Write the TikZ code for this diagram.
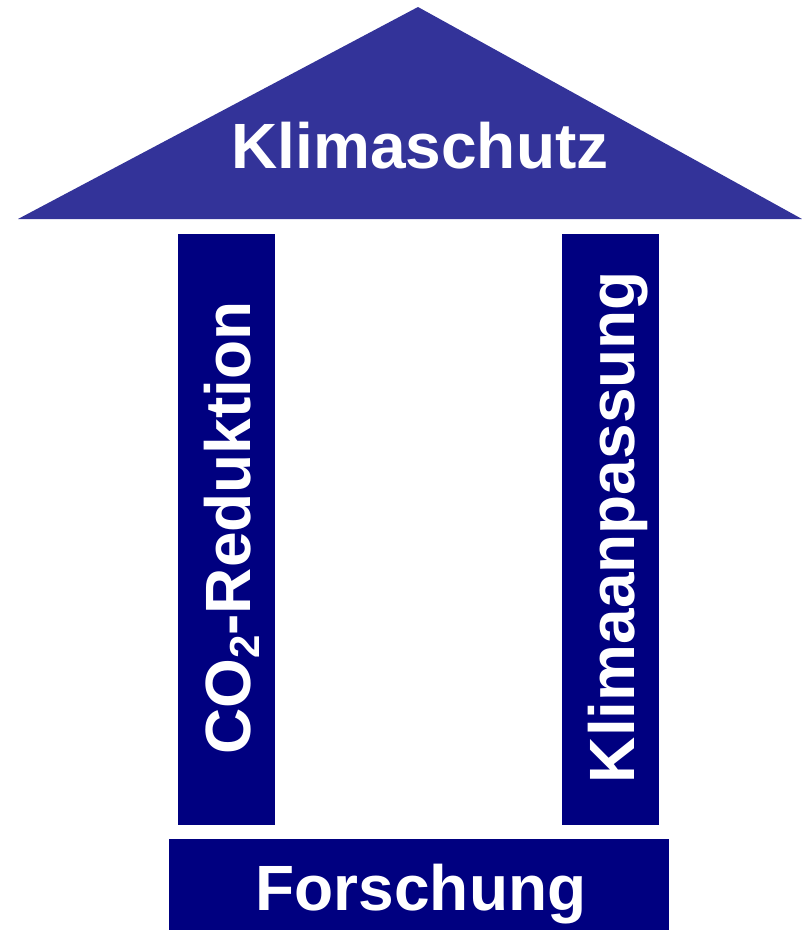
\documentclass[tikz,border=0pt]{standalone}
\usepackage{fontspec}
\setmainfont{Liberation Sans}
\definecolor{roofblue}{HTML}{333399}
\definecolor{navy}{HTML}{000080}
\begin{document}
\begin{tikzpicture}[x=1pt,y=-1pt,
  label/.style={text=white,font=\fontsize{64}{64}\selectfont\bfseries,inner sep=0pt},
  block/.style={fill=navy,draw=none}]
\useasboundingbox (0,0) rectangle (802,930);
% roof
\fill[roofblue] (18,219) -- (418,7) -- (802,219) -- cycle;
% pillars and foundation
\fill[block] (178,234) rectangle (275,825);
\fill[block] (562,234) rectangle (659,825);
\fill[block] (169,839) rectangle (669,930);
% labels
\node[label,anchor=base] (roof) at (420,168) {Klimaschutz};
\node[label,anchor=base] (base) at (421,910) {Forschung};
\node[label,rotate=90,anchor=base] (left) at (250,528)
  {CO\raisebox{-9pt}{\fontsize{42}{42}\selectfont 2}-Reduktion};
\node[label,rotate=90,anchor=base] (right) at (634,527) {Klimaanpassung};
\end{tikzpicture}
\end{document}
